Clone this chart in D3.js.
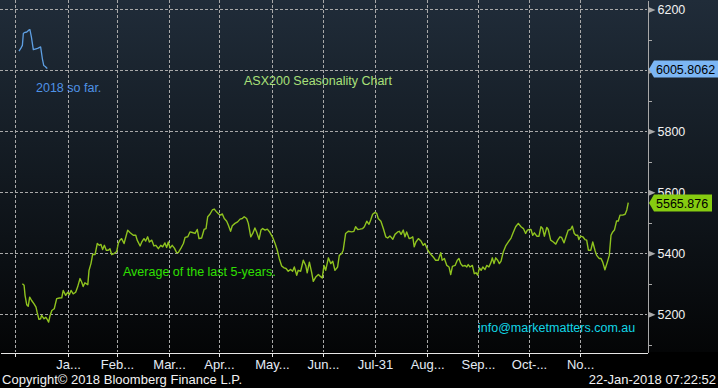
<!DOCTYPE html>
<html>
<head>
<meta charset="utf-8">
<script src="https://cdn.jsdelivr.net/npm/d3@7"></script>
<style>
  body { margin: 0; background: #000; }
  svg { display: block; font-family: "Liberation Sans", Arial, sans-serif; }
</style>
</head>
<body>
<div id="chart"></div>
<script>
// 5年平均 (trading day index, index level)
var avgDays = [0.2,0.9,1.3,2.0,2.6,3.2,4.0,5.0,5.8,6.3,7.0,7.7,8.1,9.1,9.8,10.4,11.0,11.6,12.3,13.3,14.3,15.4,16.4,17.0,18.0,18.8,19.5,20.2,21.1,22.1,22.9,23.9,24.6,25.2,25.9,27.1,27.6,28.4,29.1,30.1,31.0,31.8,32.5,33.2,33.9,34.7,35.5,36.2,36.9,37.9,39.0,39.6,40.3,41.0,42.0,43.5,44.4,45.8,46.8,47.4,48.6,49.3,50.2,50.9,51.7,52.4,53.4,54.3,55.1,56.1,57.1,57.9,58.8,59.5,60.2,60.9,61.8,62.7,63.6,64.3,65.4,66.4,67.1,68.2,69.1,70.1,71.2,72.1,72.8,73.9,74.9,75.7,76.4,77.3,78.3,79.1,80.1,81.0,81.7,82.4,83.2,84.2,84.9,85.8,86.5,87.6,88.7,89.7,90.6,91.4,92.4,93.1,94.1,94.9,95.8,96.5,97.5,98.3,99.0,100.0,100.9,102.0,103.0,104.1,105.0,105.8,106.8,107.8,108.6,109.5,110.5,111.3,112.0,113.0,113.6,114.6,115.7,116.7,117.3,118.2,119.1,119.8,120.8,121.9,122.6,123.5,124.2,124.9,126.0,127.0,127.8,128.7,129.8,130.5,131.5,132.1,133.1,134.2,135.6,136.5,137.2,138.1,139.0,140.1,140.8,141.8,142.7,143.4,144.2,145.2,145.9,146.5,147.6,148.6,149.6,150.4,151.3,152.5,153.4,154.5,155.2,155.9,156.8,157.5,158.2,159.2,160.0,160.7,161.3,162.0,163.0,164.1,165.0,165.7,166.7,167.4,168.2,169.1,170.1,171.2,172.2,172.8,173.7,174.7,175.6,176.3,177.0,178.1,179.0,179.7,180.4,181.2,182.2,182.9,183.5,184.2,185.2,186.0,186.7,187.4,188.1,188.8,189.5,190.4,191.1,192.0,192.9,193.4,194.1,194.8,195.6,196.3,197.0,197.9,198.9,200.0,201.1,202.0,203.0,204.1,205.2,206.2,207.1,207.8,208.6,209.3,210.0,210.7,211.7,212.6,213.4,214.1,214.8,215.8,216.4,217.4,218.5,219.5,220.3,221.2,221.9,222.9,223.7,224.6,225.6,226.3,227.1,227.8,228.5,229.0,229.7,230.6,231.5,232.2,232.9,233.9,234.7,235.6,236.3,237.3,238.1,238.8,239.7,240.7,241.5,242.2,242.9,243.6,244.5,245.2,245.9,247.0,248.0,248.7,249.3];
var avgVals = [5300,5295,5262,5231,5226,5256,5245,5234,5223,5205,5183,5185,5196,5185,5190,5183,5174,5196,5212,5218,5251,5253,5254,5278,5262,5272,5264,5278,5267,5272,5289,5317,5305,5291,5303,5297,5344,5366,5396,5396,5432,5426,5429,5412,5426,5410,5410,5415,5396,5399,5406,5432,5443,5448,5432,5476,5468,5459,5459,5443,5424,5437,5448,5440,5454,5437,5443,5424,5426,5415,5426,5421,5434,5419,5437,5417,5426,5417,5402,5402,5417,5432,5452,5454,5470,5468,5465,5478,5448,5450,5478,5481,5520,5528,5542,5545,5535,5528,5525,5529,5514,5505,5492,5472,5490,5498,5503,5512,5514,5520,5514,5498,5454,5465,5483,5470,5446,5476,5481,5476,5479,5468,5454,5432,5410,5383,5358,5352,5350,5341,5347,5341,5355,5328,5344,5341,5377,5360,5336,5371,5338,5308,5322,5330,5325,5319,5360,5344,5385,5366,5374,5344,5355,5393,5399,5410,5465,5472,5470,5472,5487,5478,5479,5481,5487,5505,5495,5509,5528,5534,5531,5514,5505,5481,5454,5450,5457,5446,5462,5470,5472,5462,5476,5454,5470,5448,5450,5454,5421,5437,5448,5440,5426,5432,5413,5404,5396,5388,5377,5377,5402,5377,5383,5360,5355,5330,5357,5360,5377,5383,5366,5358,5360,5355,5363,5355,5360,5333,5336,5328,5352,5344,5355,5347,5360,5355,5371,5385,5366,5385,5377,5366,5374,5404,5424,5437,5450,5468,5487,5498,5487,5481,5465,5476,5478,5478,5459,5467,5456,5456,5487,5481,5456,5485,5478,5443,5437,5430,5443,5454,5452,5434,5454,5476,5478,5489,5465,5459,5459,5445,5456,5454,5445,5443,5410,5410,5437,5410,5393,5383,5383,5371,5346,5371,5393,5459,5470,5476,5506,5506,5525,5525,5528,5542,5565.876];

// 2018年の実績
var ytdDays = [-1.2,-0.4,0.2,0.6,1.0,2.0,2.8,3.3,3.9,4.7,5.8,6.7,7.7,8.4,9.0,9.6,10.2,10.4];
var ytdVals = [6063,6073,6082,6121,6124,6126,6132,6134,6110,6068,6071,6073,6077,6039,6016,6013,6008,6005.8062];

// 軸の目盛り
var xTicks = [-2.8,19,39.1,60.5,81,102.8,123.8,145.2,166.6,187.5,208.5,229.5];
var xLabels = ["","Ja...","Feb...","Mar...","Apr...","May...","Jun...","Jul-31","Aug...","Sep...","Oct-...","No..."];
var yMajor = [5200,5400,5600,5800,6000,6200];
var yMinor = [5100,5300,5500,5700,5900,6100];
// 6000 のラベルは最新値ラベルの下に隠れるので出さない
var yHidden = [6000];

var width = 718, height = 388;
var plotW = 647, plotH = 352;

var svg = d3.select("#chart").append("svg")
    .attr("width", width)
    .attr("height", height);

// 背景のグラデーション
var grad = svg.append("defs").append("linearGradient")
    .attr("id", "bg").attr("x1", 0).attr("y1", 0).attr("x2", 0).attr("y2", 1);
grad.append("stop").attr("offset", "0%").attr("stop-color", "#202c39");
grad.append("stop").attr("offset", "50%").attr("stop-color", "#121920");
grad.append("stop").attr("offset", "100%").attr("stop-color", "#040506");

svg.append("rect").attr("width", width).attr("height", height).attr("fill", "#000");
svg.append("rect").attr("width", width).attr("height", plotH).attr("fill", "url(#bg)");

var xScale = d3.scaleLinear().domain([-9, 257]).range([0, plotW]);
var yScale = d3.scaleLinear().domain([5076, 6231]).range([plotH, 0]);

// グリッド線
var grid = svg.append("g")
    .attr("stroke", "#a9a9a9")
    .attr("stroke-dasharray", "3,2")
    .attr("stroke-width", 1)
    .attr("shape-rendering", "crispEdges");
grid.selectAll("line.v")
    .data(xTicks)
    .enter()
    .append("line")
    .attr("class", "v")
    .attr("x1", function(d){ return Math.round(xScale(d)) + 0.5; })
    .attr("x2", function(d){ return Math.round(xScale(d)) + 0.5; })
    .attr("y1", 0)
    .attr("y2", plotH);
grid.selectAll("line.h")
    .data(yMajor)
    .enter()
    .append("line")
    .attr("class", "h")
    .attr("x1", 0)
    .attr("x2", plotW)
    .attr("y1", function(d){ return Math.round(yScale(d)) + 0.5; })
    .attr("y2", function(d){ return Math.round(yScale(d)) + 0.5; });

// x軸
var xAxis = svg.append("g")
    .attr("transform", "translate(0," + (plotH + 0.5) + ")")
    .call(d3.axisBottom(xScale)
        .tickValues(xTicks)
        .tickFormat(function(d, i){ return xLabels[i]; })
        .tickSize(4)
        .tickSizeOuter(0)
        .tickPadding(3));
xAxis.select(".domain").attr("stroke", "#e6e6e6").attr("shape-rendering", "crispEdges");
xAxis.selectAll(".tick line").attr("stroke", "#e6e6e6").attr("shape-rendering", "crispEdges");
xAxis.selectAll(".tick text")
    .attr("fill", "#e4ebf5")
    .style("font-size", "13px")
    .style("font-family", "'Liberation Sans', Arial, sans-serif");

// y軸 (右側)
var yMinorAxis = svg.append("g")
    .attr("transform", "translate(" + (plotW + 0.5) + ",0)")
    .call(d3.axisRight(yScale).tickValues(yMinor).tickFormat("").tickSize(4).tickSizeOuter(0));
yMinorAxis.select(".domain").attr("stroke", "#a8a8a8").attr("shape-rendering", "crispEdges");
yMinorAxis.selectAll(".tick line").attr("stroke", "#a8a8a8").attr("shape-rendering", "crispEdges");

var yAxis = svg.append("g")
    .attr("transform", "translate(" + (plotW + 0.5) + ",0)")
    .call(d3.axisRight(yScale)
        .tickValues(yMajor)
        .tickFormat(function(d){ return yHidden.indexOf(d) >= 0 ? "" : d3.format("d")(d); })
        .tickSize(0)
        .tickSizeOuter(0)
        .tickPadding(10));
yAxis.select(".domain").remove();
yAxis.selectAll(".tick text")
    .attr("fill", "#f2f2f2")
    .style("font-size", "12.5px")
    .style("font-family", "'Liberation Sans', Arial, sans-serif");
yAxis.selectAll(".tick")
    .append("path")
    .attr("d", "M1,-3L8,0L1,3Z")
    .attr("fill", "#a8a8a8");

// ライン
var avgData = avgDays.map(function(d, i){ return {x: d, y: avgVals[i]}; });
var ytdData = ytdDays.map(function(d, i){ return {x: d, y: ytdVals[i]}; });

var line = d3.line()
    .x(function(d){ return xScale(d.x); })
    .y(function(d){ return yScale(d.y); });

svg.append("path")
    .datum(avgData)
    .attr("d", line)
    .attr("fill", "none")
    .attr("stroke", "#8fc31f")
    .attr("stroke-width", 1.4)
    .attr("stroke-linejoin", "round");

svg.append("path")
    .datum(ytdData)
    .attr("d", line)
    .attr("fill", "none")
    .attr("stroke", "#5e9fe2")
    .attr("stroke-width", 1.3)
    .attr("stroke-linejoin", "round");

// 最新値のラベル
function lastLabel(val, text, fill, boxW) {
    var yy = Math.round(yScale(val));
    var g = svg.append("g").attr("transform", "translate(" + (plotW + 2) + "," + yy + ")");
    g.append("path")
        .attr("d", "M0,0L5,-8.5L" + boxW + ",-8.5L" + boxW + ",8.5L5,8.5Z")
        .attr("fill", fill);
    g.append("text")
        .attr("x", 7)
        .attr("y", 4.5)
        .attr("fill", "#000")
        .style("font-size", "12.5px")
        .text(text);
}
lastLabel(ytdVals[ytdVals.length - 1], "6005.8062", "#7cb6f4", 69);
lastLabel(avgVals[avgVals.length - 1], "5565.876", "#86cc10", 63);

// 注釈
svg.append("text").attr("x", 244).attr("y", 85)
    .attr("fill", "#a9e07a").style("font-size", "12.5px")
    .text("ASX200 Seasonality Chart");
svg.append("text").attr("x", 36).attr("y", 92)
    .attr("fill", "#4f92e6").style("font-size", "12.5px")
    .text("2018 so far.");
svg.append("text").attr("x", 123).attr("y", 275.5)
    .attr("fill", "#2fe000").style("font-size", "12.5px")
    .text("Average of the last 5-years.");
svg.append("text").attr("x", 478).attr("y", 332)
    .attr("fill", "#12d6e6").style("font-size", "12.5px")
    .text("info@marketmatters.com.au");

// フッター
svg.append("text").attr("x", 2).attr("y", 384)
    .attr("fill", "#f2f2f2").style("font-size", "13px")
    .attr("textLength", 240)
    .text("Copyright\u00a9 2018 Bloomberg Finance L.P.");
svg.append("text").attr("x", 716).attr("y", 384)
    .attr("fill", "#f2f2f2").style("font-size", "13px")
    .attr("text-anchor", "end")
    .text("22-Jan-2018 07:22:52");
</script>
</body>
</html>
